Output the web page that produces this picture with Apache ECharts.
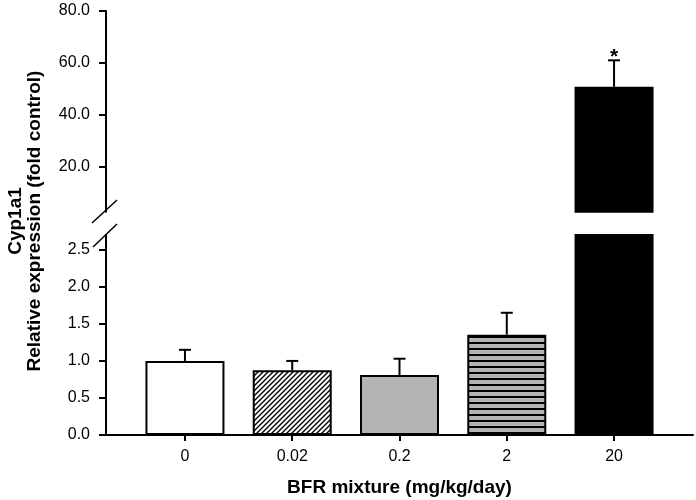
<!DOCTYPE html>
<html><head><meta charset="utf-8">
<script src="https://cdn.jsdelivr.net/npm/echarts@6/dist/echarts.min.js"></script>
<style>html,body{margin:0;padding:0;background:#fff}#c{width:696px;height:500px}</style>
</head><body><div id="c"></div>
<script>
// ---- data ----
const categories = ['0', '0.02', '0.2', '2', '20'];
const means = [1.00, 0.875, 0.81, 1.355, 50.8];
const errors = [0.15, 0.125, 0.22, 0.295, 10.2];
const significance = ['', '', '', '', '*'];
const lowerTicks = [0, 0.5, 1.0, 1.5, 2.0, 2.5];
const upperTicks = [20, 40, 60, 80];
const breakValue = 2.7;
const upperMax = 80;
const xTitle = 'BFR mixture (mg/kg/day)';
const yTitle = ['Cyp1a1', 'Relative expression (fold control)'];

// ---- styles ----
const FONT = "'Liberation Sans', Arial, Helvetica, sans-serif";
function hatchCanvas() {
  const s = 5, c = document.createElement('canvas');
  c.width = s; c.height = s;
  const g = c.getContext('2d');
  g.fillStyle = '#fff'; g.fillRect(0, 0, s, s);
  g.strokeStyle = '#000'; g.lineWidth = 1.4;
  g.beginPath();
  g.moveTo(-1, s + 1); g.lineTo(s + 1, -1);
  g.moveTo(-1, 1); g.lineTo(1, -1);
  g.moveTo(s - 1, s + 1); g.lineTo(s + 1, s - 1);
  g.stroke();
  return c;
}
function stripeCanvas() {
  const c = document.createElement('canvas');
  c.width = 4; c.height = 6;
  const g = c.getContext('2d');
  g.fillStyle = '#b3b3b3'; g.fillRect(0, 0, 4, 6);
  g.fillStyle = '#000'; g.fillRect(0, 0, 4, 2);
  return c;
}
const fills = ['#ffffff', {image: hatchCanvas(), repeat: 'repeat'}, '#b4b4b4', {image: stripeCanvas(), repeat: 'repeat'}, '#000000'];

const AX_L = 106, AX_R = 693;
const UP_TOP = 11, UP_BOT = 211.7;
const LO_TOP = 235, LO_BOT = 435;
const XMIN = -0.736, XMAX = 4.736;

const barData = means.map((v, i) => ({value: [i, v], itemStyle: {color: fills[i]}}));
const errData = means.map((v, i) => [i, v, errors[i]]);

function renderErr(params, api) {
  const i = api.value(0), m = api.value(1), e = api.value(2);
  const p0 = api.coord([i, m]);
  const p1 = api.coord([i, m + e]);
  const st = {stroke: '#000', lineWidth: 2};
  const kids = [
    {type: 'line', shape: {x1: p0[0], y1: p0[1], x2: p1[0], y2: p1[1]}, style: st},
    {type: 'line', shape: {x1: p1[0] - 6, y1: p1[1], x2: p1[0] + 6, y2: p1[1]}, style: st}
  ];
  const sig = significance[i];
  if (sig) {
    kids.push({type: 'text', x: p1[0], y: p1[1] - 3,
      style: {text: sig, fill: '#000', font: 'bold 21px ' + FONT, align: 'center', verticalAlign: 'middle'}});
  }
  return {type: 'group', children: kids};
}

const labelStyle = {color: '#000', fontFamily: FONT, fontSize: 16};
const lineStyle = {color: '#000', width: 2};

const chart = echarts.init(document.getElementById('c'), null, {renderer: 'canvas'});
chart.setOption({
  animation: false,
  backgroundColor: '#fff',
  grid: [
    {left: AX_L, right: 696 - AX_R, top: UP_TOP, bottom: 500 - UP_BOT},
    {left: AX_L, right: 696 - AX_R, top: LO_TOP, bottom: 500 - LO_BOT}
  ],
  xAxis: [
    {type: 'value', gridIndex: 0, min: XMIN, max: XMAX, show: false},
    {type: 'value', gridIndex: 1, min: XMIN, max: XMAX,
      axisLine: {show: true, onZero: false, lineStyle: lineStyle},
      axisTick: {show: true, length: 6, lineStyle: lineStyle, customValues: categories.map((c, i) => i)},
      axisLabel: {show: true, margin: 14, customValues: categories.map((c, i) => i),
        formatter: v => categories[Math.round(v)], ...labelStyle},
      splitLine: {show: false},
      name: xTitle, nameLocation: 'middle', nameGap: 43,
      nameTextStyle: {color: '#000', fontFamily: FONT, fontSize: 19, fontWeight: 'bold'}}
  ],
  yAxis: [
    {type: 'value', gridIndex: 0, min: breakValue, max: upperMax,
      axisLine: {show: true, onZero: false, lineStyle: lineStyle},
      axisTick: {show: true, length: 7, lineStyle: lineStyle, customValues: upperTicks},
      axisLabel: {show: true, margin: 16, customValues: upperTicks, formatter: v => v.toFixed(1), ...labelStyle},
      splitLine: {show: false}},
    {type: 'value', gridIndex: 1, min: 0, max: breakValue,
      axisLine: {show: true, onZero: false, lineStyle: lineStyle},
      axisTick: {show: true, length: 7, lineStyle: lineStyle, customValues: lowerTicks},
      axisLabel: {show: true, margin: 16, customValues: lowerTicks, formatter: v => v.toFixed(1), ...labelStyle},
      splitLine: {show: false}}
  ],
  series: [
    {type: 'bar', xAxisIndex: 1, yAxisIndex: 1, barWidth: 79, clip: true, silent: true,
      itemStyle: {borderColor: '#000', borderWidth: 2}, data: barData},
    {type: 'bar', xAxisIndex: 0, yAxisIndex: 0, barWidth: 79, clip: true, silent: true,
      itemStyle: {borderColor: '#000', borderWidth: 2},
      data: barData.filter(d => d.value[1] > breakValue)},
    {type: 'custom', xAxisIndex: 1, yAxisIndex: 1, z: 5, silent: true, renderItem: renderErr,
      data: errData.filter(d => d[1] <= breakValue)},
    {type: 'custom', xAxisIndex: 0, yAxisIndex: 0, z: 5, silent: true, renderItem: renderErr,
      data: errData.filter(d => d[1] > breakValue)}
  ],
  graphic: [
    {type: 'line', shape: {x1: 92, y1: 223, x2: 117, y2: 200}, style: {stroke: '#000', lineWidth: 1.5}},
    {type: 'line', shape: {x1: 93, y1: 247, x2: 117, y2: 224}, style: {stroke: '#000', lineWidth: 1.5}},
    {type: 'text', x: 25, y: 221, rotation: Math.PI / 2,
      style: {text: yTitle.join('\n'), fill: '#000', font: 'bold 19px ' + FONT,
        align: 'center', verticalAlign: 'middle', lineHeight: 19}}
  ]
});
</script></body></html>
